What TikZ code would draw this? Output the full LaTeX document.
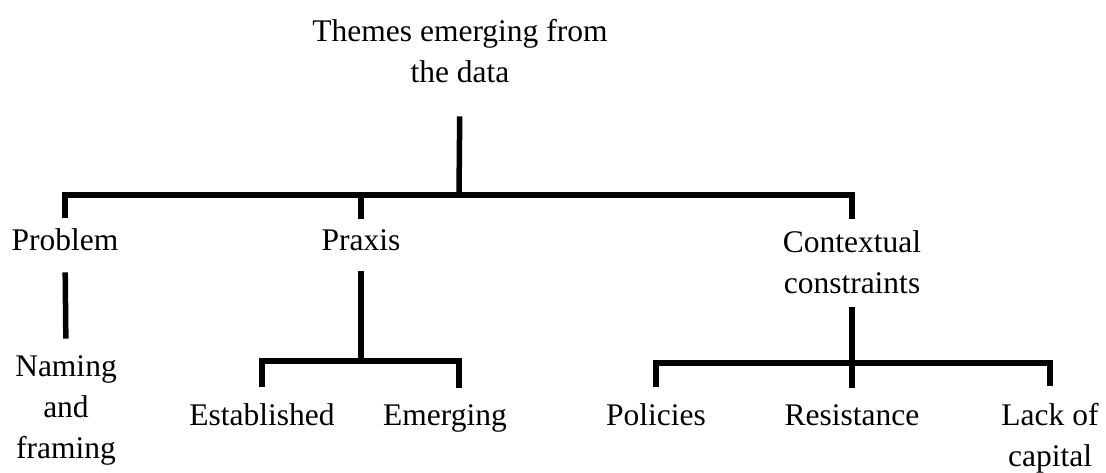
\documentclass[tikz,border=0pt]{standalone}
\usepackage{fontspec}
\setmainfont{Liberation Serif}
\begin{document}
\begin{tikzpicture}[x=1pt,y=-1pt,
  lbl/.style={inner sep=0pt, outer sep=0pt, align=center, anchor=base,
    font=\fontsize{31.5}{41}\selectfont},
  conn/.style={line width=5.5pt, line join=miter, line cap=butt}]
\useasboundingbox (0,0) rectangle (1106,473);
\fill[white] (0,0) rectangle (1106,473);

% nodes (anchor=base is the baseline of the last line)
\node[lbl] (root) at (460,83) {Themes emerging from\\the data};
\node[lbl] (prob) at (65,251) {Problem};
\node[lbl] (prax) at (361,251) {Praxis};
\node[lbl] (ctx)  at (852,294) {Contextual\\constraints};
\node[lbl] (nam)  at (66,458) {Naming\\and\\framing};
\node[lbl] (est)  at (262,425) {Established};
\node[lbl] (emg)  at (445,425) {Emerging};
\node[lbl] (pol)  at (656,425) {Policies};
\node[lbl] (res)  at (852,425) {Resistance};
\node[lbl] (lack) at (1050,466) {Lack of\\capital};

% junctions
\coordinate (j0) at (459,195);
\coordinate (j1) at (361,361);
\coordinate (j2) at (852,363);

% connectors
\draw[conn, shorten <=33pt] (root.south) -- (j0);
\draw[conn, shorten <=11.5pt, shorten >=12.5pt] (prob.north) |- (j0) -| (ctx.north);
\draw[conn, shorten <=11.5pt] (prax.north) -- (prax.north |- j0);
\draw[conn, shorten <=21pt, shorten >=16.5pt] (prob.south) -- (nam.north);
\draw[conn, shorten <=20pt] (prax.south) -- (j1);
\draw[conn, shorten <=16.5pt, shorten >=16.5pt] (est.north) |- (j1) -| ([xshift=14pt]emg.north);
\draw[conn, shorten <=13pt, shorten >=16.5pt] (ctx.south) -- (res.north);
\draw[conn, shorten <=16.5pt, shorten >=16.5pt] (pol.north) |- (j2) -| (lack.north);
\end{tikzpicture}
\end{document}
